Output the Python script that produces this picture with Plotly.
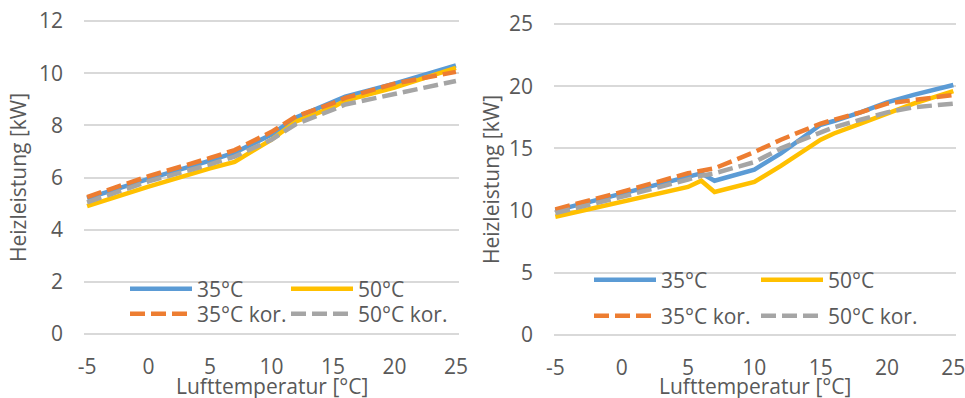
import plotly.graph_objects as go

# ---------------- data ----------------
x_left = [-5, 0, 5, 7, 10, 12, 15, 16, 20, 25]
left_35 = [5.2, 5.95, 6.65, 6.95, 7.65, 8.3, 8.9, 9.1, 9.6, 10.3]
left_50 = [4.9, 5.65, 6.35, 6.6, 7.45, 8.15, 8.7, 8.95, 9.45, 10.2]
left_35_kor = [5.25, 6.05, 6.75, 7.05, 7.75, 8.35, 8.85, 9.05, 9.6, 10.05]
left_50_kor = [5.05, 5.85, 6.5, 6.8, 7.45, 8.05, 8.6, 8.8, 9.2, 9.7]

x_right = [-5, 0, 5, 6, 7, 10, 12, 15, 16, 18, 20, 22, 25]
right_35 = [10.0, 11.4, 12.8, 13.0, 12.4, 13.3, 14.6, 16.9, 17.2, 17.9, 18.7, 19.3, 20.1]
right_50 = [9.5, 10.7, 11.9, 12.4, 11.5, 12.3, 13.6, 15.7, 16.2, 17.0, 17.8, 18.6, 19.6]
right_35_kor = [10.1, 11.5, 13.0, 13.2, 13.4, 14.7, 15.7, 17.0, 17.3, 17.9, 18.6, 18.9, 19.3]
right_50_kor = [9.8, 11.1, 12.5, 12.8, 13.0, 13.9, 15.0, 16.3, 16.7, 17.3, 17.9, 18.3, 18.6]

names = ["35°C", "50°C", "35°C kor.", "50°C kor."]
x_ticks = [-5, 0, 5, 10, 15, 20, 25]
x_ticktext = ["-5", "0", "5", "10", "15", "20", "25"]
left_yticks = [0, 2, 4, 6, 8, 10, 12]
right_yticks = [0, 5, 10, 15, 20, 25]
x_title = "Lufttemperatur [°C]"
y_title = "Heizleistung [kW]"

# ---------------- style ----------------
W, H = 965, 398
FONT = "Open Sans"
FS = 21
TXT = "#595959"
GRID = "#D9D9D9"
colors = ["#5B9BD5", "#FFC000", "#ED7D31", "#A5A5A5"]
dashes = ["solid", "solid", "15px,6px", "15px,6px"]
LW = 4.5

fig = go.Figure()

left_series = [left_35, left_50, left_35_kor, left_50_kor]
right_series = [right_35, right_50, right_35_kor, right_50_kor]
left_leg = ["legend", "legend", "legend2", "legend2"]
right_leg = ["legend3", "legend3", "legend4", "legend4"]

for i, ys in enumerate(left_series):
    fig.add_trace(go.Scatter(x=x_left, y=ys, mode="lines", name=names[i],
                             line=dict(color=colors[i], width=LW, dash=dashes[i]),
                             xaxis="x", yaxis="y", legend=left_leg[i]))
for i, ys in enumerate(right_series):
    fig.add_trace(go.Scatter(x=x_right, y=ys, mode="lines", name=names[i],
                             line=dict(color=colors[i], width=LW, dash=dashes[i]),
                             xaxis="x2", yaxis="y2", legend=right_leg[i]))


def px2x(p):
    return p / W


def px2y(p):
    return 1 - p / H


tf = dict(family=FONT, size=FS, color=TXT)

xaxis_common = dict(showgrid=False, zeroline=False, showline=False, automargin=False,
                    tickfont=tf, ticks="", ticklabelstandoff=15,
                    ticklabeloverflow="allow",
                    tickvals=x_ticks, ticktext=x_ticktext)

yaxis_common = dict(showgrid=True, gridcolor=GRID, gridwidth=2, zeroline=False,
                    showline=False, automargin=False,
                    tickfont=tf, title_font=tf, ticks="", ticklabelstandoff=20)

left_dom = [px2x(84), px2x(459)]
right_dom = [px2x(554), px2x(956)]

fig.update_layout(
    width=W, height=H,
    margin=dict(l=0, r=0, t=0, b=0, autoexpand=False),
    paper_bgcolor="white", plot_bgcolor="white",
    font=dict(family=FONT, color=TXT, size=FS),
    xaxis=dict(domain=left_dom, range=[-5.25, 25.25], anchor="y", **xaxis_common),
    yaxis=dict(domain=[px2y(336.6), px2y(18.4)], range=[-0.1, 12.1],
               tickvals=left_yticks, anchor="x",
               title=dict(text=y_title, standoff=6), **yaxis_common),
    xaxis2=dict(domain=right_dom, range=[-5.1, 25.2], anchor="y2", **xaxis_common),
    yaxis2=dict(domain=[px2y(337.5), px2y(21.5)], range=[-0.2, 25.2],
                tickvals=right_yticks, anchor="x2",
                title=dict(text=y_title, standoff=3), **yaxis_common),
)

# x axis titles (placed as text below each panel, partly cut by the page edge as in the original)
for dom in (left_dom, right_dom):
    fig.add_annotation(text=x_title, xref="paper", yref="paper",
                       x=(dom[0] + dom[1]) / 2, y=px2y(386), xanchor="center", yanchor="middle",
                       showarrow=False, font=tf)

leg_common = dict(orientation="h", bgcolor="rgba(0,0,0,0)", borderwidth=0,
                  font=tf, itemwidth=62, entrywidthmode="pixels", yanchor="middle",
                  xanchor="left", tracegroupgap=0, itemclick=False)

fig.update_layout(
    legend=dict(x=px2x(125), y=px2y(289), entrywidth=84, **leg_common),
    legend2=dict(x=px2x(125), y=px2y(314), entrywidth=84, **leg_common),
    legend3=dict(x=px2x(589), y=px2y(280), entrywidth=90, **leg_common),
    legend4=dict(x=px2x(589), y=px2y(316), entrywidth=90, **leg_common),
)

fig.write_html("out.html")
